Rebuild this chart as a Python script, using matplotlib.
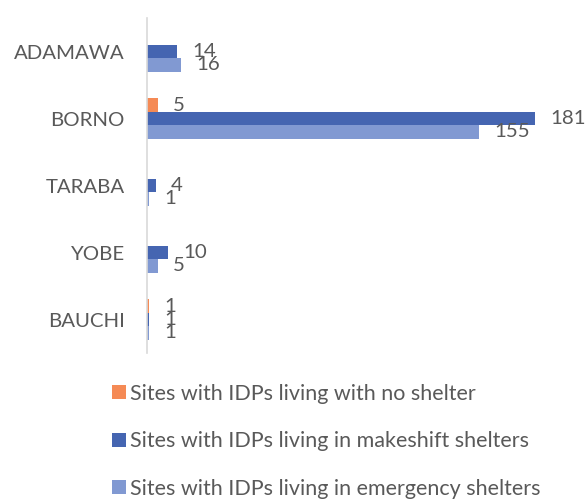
import numpy as np
import matplotlib.pyplot as plt

states = ["ADAMAWA", "BORNO", "TARABA", "YOBE", "BAUCHI"]
no_shelter = [np.nan, 5, np.nan, np.nan, 1]
makeshift = [14, 181, 4, 10, 1]
emergency = [16, 155, 1, 5, 1]

series = [
    ("Sites with IDPs living with no shelter", no_shelter, "#F58A55"),
    ("Sites with IDPs living in makeshift shelters", makeshift, "#4565B1"),
    ("Sites with IDPs living in emergency shelters", emergency, "#8199D2"),
]

plt.rcParams['font.family'] = ['Lato', 'DejaVu Sans']
txt = "#595959"

fig = plt.figure(figsize=(5.86, 5.01), dpi=100)
ax = fig.add_axes([0.2509, 0.2954, 0.662, 0.6686])

y = np.arange(len(states))
h = 0.2
handles = []
for i, (name, vals, col) in enumerate(series):
    vals = np.array(vals, dtype=float)
    pos = y + (i - 1) * h
    b = ax.barh(pos, np.nan_to_num(vals), height=h, color=col, label=name)
    handles.append(b)
    for p, v in zip(pos, vals):
        if not np.isnan(v):
            ax.annotate(f"{int(v)}", (v, p), xytext=(11, 0), textcoords="offset points",
                        va="center", ha="left", fontsize=14.7, color=txt)

ax.set_xlim(0, 181)
ax.set_ylim(len(states) - 0.5, -0.5)
ax.set_yticks(y)
ax.set_yticklabels(states, fontsize=14.7, color=txt)
ax.tick_params(axis="y", length=0, pad=16)
ax.set_xticks([])
for s in ["top", "right", "bottom"]:
    ax.spines[s].set_visible(False)
ax.spines["left"].set_color("#D9D9D9")
ax.spines["left"].set_linewidth(1.2)

leg = fig.legend(handles=handles, loc="upper left", bbox_to_anchor=(0.177, 0.251),
                 frameon=False, fontsize=15.5, handlelength=0.62, handleheight=0.62,
                 handletextpad=0.22, labelspacing=1.28, borderaxespad=0)
for t in leg.get_texts():
    t.set_color(txt)

fig.savefig("out.png", dpi=100)
